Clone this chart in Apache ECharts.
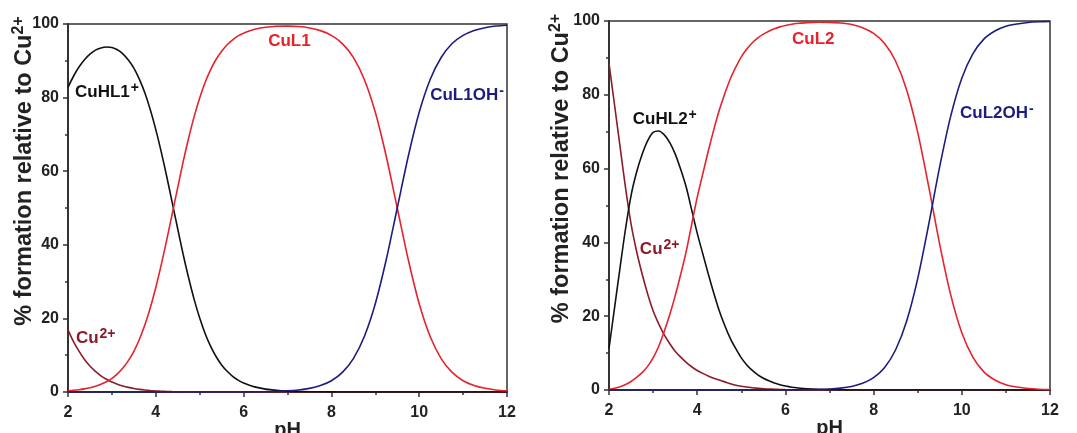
<!DOCTYPE html>
<html>
<head>
<meta charset="utf-8">
<script src="https://cdn.jsdelivr.net/npm/echarts@6/dist/echarts.min.js"></script>
<style>
  html, body { margin: 0; padding: 0; background: #fff; }
  #chart { width: 1077px; height: 433px; }
</style>
</head>
<body>
<div id="chart"></div>
<script>
// pH points shared by both panels (finer below pH 6 where the curves bend most)
const pH = [2, 2.125, 2.25, 2.375, 2.5, 2.625, 2.75, 2.875, 3, 3.125, 3.25, 3.375, 3.5, 3.625, 3.75, 3.875,
  4, 4.125, 4.25, 4.375, 4.5, 4.625, 4.75, 4.875, 5, 5.125, 5.25, 5.375, 5.5, 5.625, 5.75, 5.875,
  6, 6.25, 6.5, 6.75, 7, 7.25, 7.5, 7.75, 8, 8.25, 8.5, 8.75, 9, 9.25, 9.5, 9.75,
  10, 10.25, 10.5, 10.75, 11, 11.25, 11.5, 11.75, 12]

// left panel (L1), % formation
const cu1 = [16.9, 13.7, 11.1, 8.85, 7.05, 5.58, 4.4, 3.45,
  2.7, 2.1, 1.62, 1.25, 0.95, 0.72, 0.54, 0.4,
  0.29, 0.21, 0.15, 0.1, 0.07, 0.05, 0.03, 0.02,
  0.01, 0, 0, 0, 0, 0, 0, 0,
  0,
  0, 0, 0, 0, 0, 0, 0, 0,
  0, 0, 0, 0, 0, 0, 0, 0,
  0, 0, 0, 0, 0, 0, 0, 0]
const cuhl1 = [82.8, 85.8, 88.3, 90.3, 91.8, 92.9, 93.5, 93.75,
  93.6, 93.0, 91.9, 90.2, 88.0, 85.0, 81.3, 76.7,
  71.3, 65.2, 58.5, 51.4, 44.3, 37.3, 30.9, 25.1,
  20.1, 15.85, 12.4, 9.58, 7.36, 5.62, 4.27, 3.24,
  2.45,
  1.39, 0.79, 0.45, 0.25, 0.14, 0.08, 0.05, 0.03,
  0.01, 0, 0, 0, 0, 0, 0, 0,
  0, 0, 0, 0, 0, 0, 0, 0]
const cul1 = [0.33, 0.46, 0.63, 0.85, 1.16, 1.56, 2.09, 2.8,
  3.72, 4.94, 6.5, 8.52, 11.07, 14.27, 18.2, 22.9,
  28.4, 34.6, 41.4, 48.5, 55.6, 62.65, 69.1, 74.9,
  79.9, 84.15, 87.6, 90.42, 92.6, 94.38, 95.7, 96.76,
  97.5,
  98.55, 99.1, 99.37, 99.43, 99.3, 98.93, 98.2, 96.92,
  94.67, 90.91, 84.9, 76.0, 64.0, 50.0, 36.0, 24.0,
  15.1, 9.09, 5.32, 3.06, 1.75, 1.0, 0.56, 0.32]
const cul1oh = [0, 0, 0, 0, 0, 0, 0, 0,
  0, 0, 0, 0, 0, 0, 0, 0,
  0, 0, 0, 0, 0, 0, 0, 0,
  0, 0, 0, 0, 0, 0, 0, 0,
  0.03,
  0.06, 0.1, 0.18, 0.32, 0.56, 0.99, 1.75, 3.06,
  5.32, 9.09, 15.1, 24.0, 36.0, 50.0, 64.0, 76.0,
  84.9, 90.9, 94.7, 96.9, 98.25, 99.0, 99.44, 99.68]

// right panel (L2), % formation
const cu2 = [88.5, 77.3, 66, 54.8, 45, 37.6, 31.5, 26.1,
  21.5, 18, 15, 12.6, 10.5, 8.9, 7.5, 6.3,
  5.3, 4.5, 3.8, 3.2, 2.7, 2.2, 1.7, 1.3,
  1.0, 0.8, 0.6, 0.47, 0.35, 0.27, 0.2, 0.14,
  0.1,
  0.05, 0.02, 0, 0, 0, 0, 0, 0,
  0, 0, 0, 0, 0, 0, 0, 0,
  0, 0, 0, 0, 0, 0, 0, 0]
const cuhl2 = [11.3, 22.2, 33.1, 43.7, 52.7, 59.0, 63.8, 67.5,
  69.8, 70.2, 69.2, 67.1, 64, 59.8, 55, 48.8,
  42.5, 37, 31.5, 26.3, 21.5, 17.5, 14, 11.2,
  8.7, 6.8, 5.3, 4.1, 3.2, 2.5, 1.9, 1.45,
  1.1,
  0.6, 0.35, 0.2, 0.1, 0.05, 0, 0, 0,
  0, 0, 0, 0, 0, 0, 0, 0,
  0, 0, 0, 0, 0, 0, 0, 0]
const cul2 = [0.2, 0.5, 0.9, 1.5, 2.3, 3.4, 4.7, 6.4,
  8.7, 11.8, 15.8, 20.3, 25.5, 31.3, 37.5, 44.9,
  52.2, 58.5, 64.7, 70.5, 75.8, 80.3, 84.3, 87.5,
  90.3, 92.4, 94.1, 95.43, 96.45, 97.23, 97.9, 98.41,
  98.78,
  99.31, 99.56, 99.65, 99.63, 99.44, 99.04, 98.2, 96.67,
  93.91, 89.1, 81.3, 69.8, 55.1, 39.4, 25.7, 15.5,
  8.9, 4.9, 2.7, 1.4, 0.8, 0.4, 0.2, 0.1]
const cul2oh = [0, 0, 0, 0, 0, 0, 0, 0,
  0, 0, 0, 0, 0, 0, 0, 0,
  0, 0, 0, 0, 0, 0, 0, 0,
  0, 0, 0, 0, 0, 0, 0, 0,
  0.02,
  0.04, 0.07, 0.15, 0.27, 0.51, 0.96, 1.8, 3.33,
  6.09, 10.9, 18.7, 30.2, 44.9, 60.6, 74.3, 84.5,
  91.1, 95.1, 97.3, 98.6, 99.2, 99.6, 99.8, 99.9]

// in-plot species labels, anchored at [pH, %] (bottom-left of text)
const labels1 = [
  { text: 'CuHL1{sup|+}', at: [2.16, 78.5], color: '#111111' },
  { text: 'CuL1', at: [6.56, 92.9], color: '#e8222b' },
  { text: 'CuL1OH{sup|-}', at: [10.25, 77.7], color: '#1d1d80' },
  { text: 'Cu{sup|2+}', at: [2.18, 11.7], color: '#8c1c2a' }
]
const labels2 = [
  { text: 'CuL2', at: [6.15, 92.7], color: '#e8222b' },
  { text: 'CuHL2{sup|+}', at: [2.54, 70.5], color: '#111111' },
  { text: 'Cu{sup|2+}', at: [2.7, 35.2], color: '#8c1c2a' },
  { text: 'CuL2OH{sup|-}', at: [9.96, 72.1], color: '#1d1d80' }
]

const FONT = `'Liberation Sans', Arial, Helvetica, sans-serif`
const AXIS_COLOR = '#333333'
const colors = { cu: '#8c1c2a', cuhl: '#111111', cul: '#e8222b', culoh: '#1d1d80' }

function pairs (ys) {
  return pH.map((x, i) => [x, ys[i]])
}

function makeX (gridIndex) {
  return {
    type: 'value',
    gridIndex: gridIndex,
    min: 2,
    max: 12,
    interval: 2,
    name: 'pH',
    nameLocation: 'middle',
    nameGap: 28,
    nameMoveOverlap: false,
    nameTextStyle: { color: '#222', fontSize: 20, fontWeight: 'bold', fontFamily: FONT },
    axisLine: { show: true, lineStyle: { color: AXIS_COLOR, width: 2 } },
    axisTick: { show: true, length: 5, lineStyle: { color: AXIS_COLOR, width: 1.5 } },
    minorTick: { show: true, splitNumber: 2, length: 3, lineStyle: { color: AXIS_COLOR, width: 1.5 } },
    splitLine: { show: false },
    axisLabel: { color: '#222', fontSize: 16, fontWeight: 'bold', fontFamily: FONT, margin: 13 }
  }
}

function makeY (gridIndex, gap) {
  return {
    type: 'value',
    gridIndex: gridIndex,
    min: 0,
    max: 100,
    interval: 20,
    name: '% formation relative to Cu{sup|2+}',
    nameLocation: 'middle',
    nameGap: gap,
    nameMoveOverlap: false,
    nameTextStyle: {
      color: '#222',
      fontSize: 23.5,
      fontWeight: 'bold',
      fontFamily: FONT,
      padding: [0, 0, 0, 74],
      rich: {
        sup: { fontSize: 16, fontWeight: 'bold', fontFamily: FONT, color: '#222', padding: [0, 0, 11, 0], verticalAlign: 'bottom' }
      }
    },
    axisLine: { show: true, lineStyle: { color: AXIS_COLOR, width: 2 } },
    axisTick: { show: true, length: 5, lineStyle: { color: AXIS_COLOR, width: 1.5 } },
    minorTick: { show: true, splitNumber: 2, length: 3, lineStyle: { color: AXIS_COLOR, width: 1.5 } },
    splitLine: { show: false },
    axisLabel: { color: '#222', fontSize: 16, fontWeight: 'bold', fontFamily: FONT, margin: 9 }
  }
}

function makeLine (name, ys, color, idx) {
  return {
    name: name,
    type: 'line',
    xAxisIndex: idx,
    yAxisIndex: idx,
    data: pairs(ys),
    smooth: 0.3,
    showSymbol: false,
    symbol: 'none',
    lineStyle: { color: color, width: 1.6 },
    itemStyle: { color: color },
    z: 3
  }
}

const chart = echarts.init(document.getElementById('chart'))

const option = {
  animation: false,
  backgroundColor: '#ffffff',
  grid: [
    { left: 68, top: 24, width: 439, height: 368, show: true, borderColor: AXIS_COLOR, borderWidth: 1.5, containLabel: false, outerBoundsMode: 'none' },
    { left: 609, top: 21, width: 441, height: 369, show: true, borderColor: AXIS_COLOR, borderWidth: 1.5, containLabel: false, outerBoundsMode: 'none' }
  ],
  xAxis: [makeX(0), makeX(1)],
  yAxis: [makeY(0, 30), makeY(1, 34)],
  series: [
    makeLine('Cu2+', cu1, colors.cu, 0),
    makeLine('CuHL1+', cuhl1, colors.cuhl, 0),
    makeLine('CuL1', cul1, colors.cul, 0),
    makeLine('CuL1OH-', cul1oh, colors.culoh, 0),
    makeLine('Cu2+', cu2, colors.cu, 1),
    makeLine('CuHL2+', cuhl2, colors.cuhl, 1),
    makeLine('CuL2', cul2, colors.cul, 1),
    makeLine('CuL2OH-', cul2oh, colors.culoh, 1)
  ]
}

chart.setOption(option)

function labelGraphics (list, gridIndex) {
  return list.map(l => {
    const p = chart.convertToPixel({ gridIndex: gridIndex }, l.at)
    return {
      type: 'text',
      x: p[0],
      y: p[1],
      z: 10,
      style: {
        text: l.text,
        fill: l.color,
        fontSize: 17,
        fontWeight: 'bold',
        fontFamily: FONT,
        align: 'left',
        verticalAlign: 'bottom',
        rich: {
          sup: { fill: l.color, fontSize: 14, fontWeight: 'bold', fontFamily: FONT, padding: [0, 0, 8, 1], verticalAlign: 'bottom' }
        }
      }
    }
  })
}

chart.setOption({
  graphic: labelGraphics(labels1, 0).concat(labelGraphics(labels2, 1))
})
</script>
</body>
</html>
